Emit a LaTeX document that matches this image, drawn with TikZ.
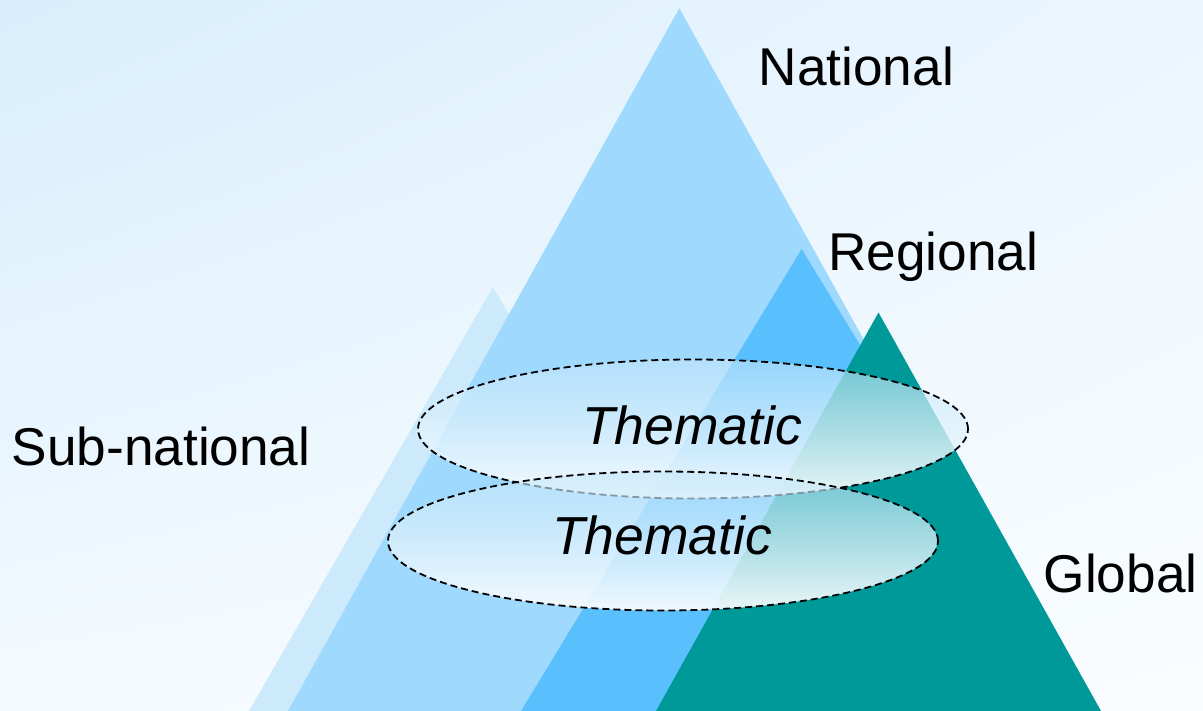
\documentclass[tikz,border=0pt]{standalone}
\usepackage{fontspec}
\setmainfont{Liberation Sans}
\usetikzlibrary{shapes.geometric,shadings,fadings}
\definecolor{bgUL}{RGB}{216,238,252}
\definecolor{bgUR}{RGB}{236,246,254}
\definecolor{bgLL}{RGB}{244,250,255}
\definecolor{bgLR}{RGB}{250,253,255}
\definecolor{subc}{RGB}{205,234,253}
\definecolor{natc}{RGB}{159,217,253}
\definecolor{regc}{RGB}{90,191,253}
\definecolor{globc}{RGB}{0,153,153}
\definecolor{ellTop}{RGB}{196,231,252}
\definecolor{ellBot}{RGB}{250,253,253}
\tikzfading[name=ellfade, top color=transparent!42, bottom color=transparent!6]
\tikzset{
  lbl/.style={anchor=base west, inner sep=0pt, font=\fontsize{53.2}{60}\selectfont},
  ellfill/.style={ellipse, minimum width=550pt, minimum height=139pt, inner sep=0pt,
    top color=ellTop, bottom color=ellBot, path fading=ellfade},
  ellline/.style={ellipse, minimum width=550pt, minimum height=139pt, inner sep=0pt,
    draw=black, line width=1.8pt, dash pattern=on 7pt off 4pt},
  thtext/.style={anchor=base, inner sep=0pt, font=\fontsize{53.5}{60}\selectfont\itshape}
}
\begin{document}
\begin{tikzpicture}[x=1pt,y=-1pt]
\useasboundingbox (0,0) rectangle (1203,711);
\shade[upper left=bgUL, upper right=bgUR, lower left=bgLL, lower right=bgLR] (0,0) rectangle (1203,711);
% triangles
\fill[subc] (493,287) -- (249,711) -- (737,711) -- cycle;
\fill[natc] (679.3,8.3) -- (288,711) -- (1070.6,711) -- cycle;
\fill[regc] (801.7,249) -- (521,711) -- (1082.4,711) -- cycle;
\fill[globc] (878.5,312.5) -- (656,711) -- (1101,711) -- cycle;
% upper ellipse
\node[ellfill] (t1) at (693,429) {};
\node[ellline] (t1b) at (693,429) {};
\node[thtext] (t1txt) at (692,444.3) {Thematic};
% lower ellipse
\node[ellfill] (t2) at (663,541) {};
\node[ellline] (t2b) at (663,541) {};
\node[thtext] (t2txt) at (662,554.3) {Thematic};
% labels
\node[lbl] (nat) at (758.5,86) {National};
\node[lbl] (reg) at (828,270.5) {Regional};
\node[lbl] (sub) at (11.5,465) {Sub-national};
\node[lbl] (glob) at (1043.5,592) {Global};
\end{tikzpicture}
\end{document}
